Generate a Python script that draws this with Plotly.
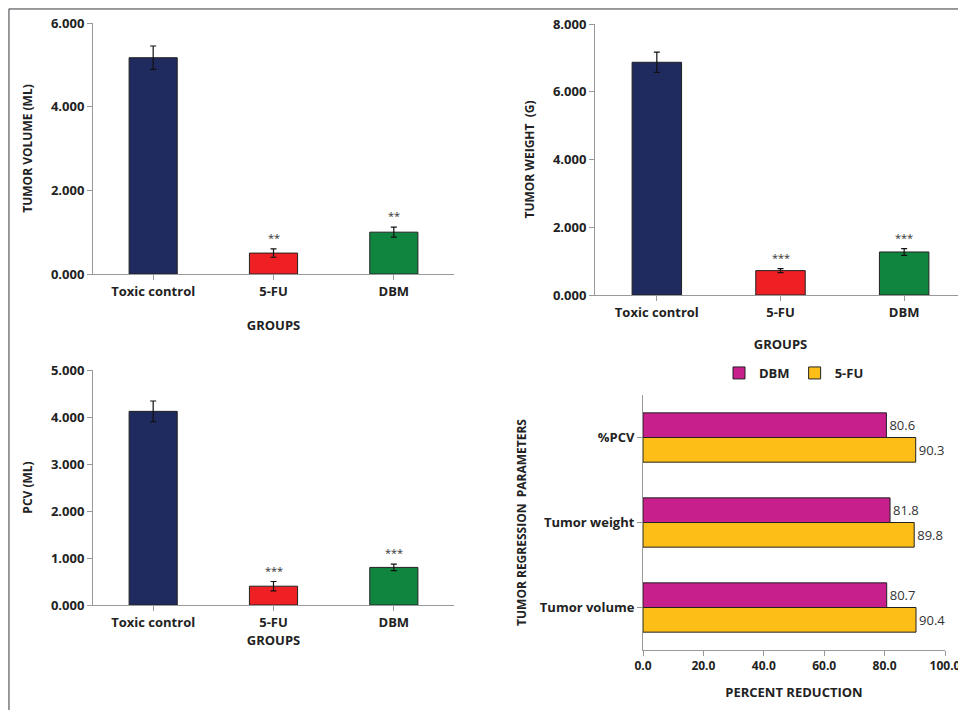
import plotly.graph_objects as go

groups = ["Toxic control", "5-FU", "DBM"]
colors = ["#1f2a5e", "#ee2024", "#0f8540"]
tv = [5.17, 0.50, 1.00]; tv_err = [0.28, 0.10, 0.12]; tv_star = ["", "**", "**"]
tw = [6.87, 0.72, 1.27]; tw_err = [0.30, 0.06, 0.10]; tw_star = ["", "***", "***"]
pcv = [4.12, 0.40, 0.80]; pcv_err = [0.22, 0.10, 0.07]; pcv_star = ["", "***", "***"]
params = ["Tumor volume", "Tumor weight", "%PCV"]
red_dbm = [80.7, 81.8, 80.6]
red_fu = [90.4, 89.8, 90.3]

W, H = 966, 710
OFF = 8  # page body margin
def px(v): return (v - OFF) / W
def py(v): return 1 - (v - OFF) / H

FONT = "Open Sans"
fig = go.Figure()
bold = dict(family=FONT, size=13, color="#222", weight="bold")

panels = [
    ("x", "y", tv, tv_err, tv_star, [0, 6], 2, [93, 454], [23, 274], "TUMOR VOLUME (ML)", "GROUPS", 22),
    ("x2", "y2", tw, tw_err, tw_star, [0, 8], 2, [595, 966], [24, 295], "TUMOR WEIGHT  (G)", "GROUPS", 20),
    ("x3", "y3", pcv, pcv_err, pcv_star, [0, 5], 1, [93, 454], [370, 605], "PCV (ML)", "GROUPS", 4),
]
ann = []
for i, (xa, ya, vals, errs, stars, rng, dt, xp, yp, yt, xt, stand) in enumerate(panels):
    fig.add_trace(go.Bar(x=groups, y=vals, xaxis=xa, yaxis=ya, width=0.4,
                         marker=dict(color=colors, line=dict(color="#222", width=1)),
                         error_y=dict(type="data", array=errs, color="#111", thickness=1.2, width=3),
                         showlegend=False))
    for g, v, e, s in zip(groups, vals, errs, stars):
        if s:
            ann.append(dict(x=g, y=v + e, xref=xa, yref=ya, text=s, showarrow=False,
                            yanchor="bottom", yshift=2, font=dict(family=FONT, size=11, color="#333")))
    sfx = "" if i == 0 else str(i + 1)
    fig.update_layout(**{
        "xaxis" + sfx: dict(domain=[px(xp[0]), px(xp[1])], anchor=ya, showline=True, linecolor="#999",
                            ticks="outside", tickcolor="#999", ticklen=5, tickfont=bold, automargin=False,
                            title=dict(text=xt, font=bold, standoff=stand)),
        "yaxis" + sfx: dict(domain=[py(yp[1]), py(yp[0])], anchor=xa, range=rng, dtick=dt,
                            tickformat=".3f", showline=True, linecolor="#999", showgrid=False, automargin=False,
                            ticks="outside", tickcolor="#999", ticklen=5, tickfont=bold,
                            title=dict(text=yt, font=dict(family=FONT, size=12, color="#222", weight="bold"))),
    })

fig.add_trace(go.Bar(y=params, x=red_fu, orientation="h", name="5-FU", xaxis="x4", yaxis="y4",
                     marker=dict(color="#fdbf17", line=dict(color="#222", width=1)),
                     text=[f"{v:.1f}" for v in red_fu], textposition="outside", cliponaxis=False,
                     textfont=dict(family=FONT, size=13, color="#333")))
fig.add_trace(go.Bar(y=params, x=red_dbm, orientation="h", name="DBM", xaxis="x4", yaxis="y4",
                     marker=dict(color="#c71f8c", line=dict(color="#222", width=1)),
                     text=[f"{v:.1f}" for v in red_dbm], textposition="outside", cliponaxis=False,
                     textfont=dict(family=FONT, size=13, color="#333")))
fig.update_layout(
    xaxis4=dict(domain=[px(643), px(945)], anchor="y4", range=[0, 100], dtick=20, tickformat=".1f",
                showline=True, linecolor="#999", showgrid=False, ticks="outside", tickcolor="#999", automargin=False,
                ticklen=5, tickfont=dict(family=FONT, size=12, color="#222", weight="bold"),
                title=dict(text="PERCENT REDUCTION", font=bold, standoff=14)),
    yaxis4=dict(domain=[py(650), py(395)], anchor="x4", showline=True, linecolor="#999", automargin=False,
                ticks="outside", tickcolor="#999", ticklen=5, tickfont=bold,
                title=dict(text="TUMOR REGRESSION  PARAMETERS", font=dict(family=FONT, size=12, color="#222", weight="bold"), standoff=10)),
    barmode="group", bargap=0.42, bargroupgap=0.0,
    legend=dict(orientation="h", x=px((643 + 945) / 2), xanchor="center", y=py(373), yanchor="middle",
                traceorder="reversed", font=bold, bgcolor="rgba(0,0,0,0)"),
    annotations=ann,
    shapes=[dict(type="rect", xref="paper", yref="paper", x0=px(9), x1=1.01, y0=-0.01, y1=py(9),
                 fillcolor="white", line=dict(color="#444", width=1), layer="below")],
    paper_bgcolor="#dfe3f0", plot_bgcolor="rgba(0,0,0,0)",
    width=W, height=H, margin=dict(l=0, r=0, t=0, b=0, autoexpand=False),
)
fig.write_html("out.html")
